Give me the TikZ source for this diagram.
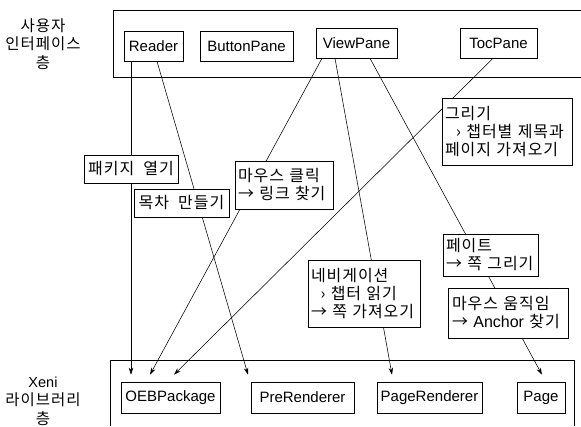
\documentclass[tikz,border=0pt]{standalone}
\usepackage{fontspec}
\setmainfont{Liberation Sans}
\newfontfamily\kr[LetterSpace=6,WordSpace=2]{Noto Sans CJK KR}
\usetikzlibrary{arrows.meta}
\begin{document}
\begin{tikzpicture}[x=1pt,y=-1pt,
  comp/.style={draw,line width=0.6pt,minimum height=30pt,inner sep=0pt,
    font=\fontsize{15}{17}\selectfont},
  note/.style={draw,fill=white,line width=0.6pt,inner xsep=3pt,inner ysep=0pt,
    align=left,font=\kr\fontsize{16}{18}\selectfont},
  layername/.style={align=center,font=\kr\fontsize{15.5}{18.5}\selectfont},
  frame/.style={line width=0.7pt},
  link/.style={line width=0.55pt,-{Stealth[length=7pt,width=4.5pt]}}]
\useasboundingbox (0,0) rectangle (581,426);

% layer frames (open toward the page edges)
\draw[frame] (581,10) -- (113,10) -- (113,77) -- (581,77);
\draw[frame] (110,426) -- (110,360) -- (574,360) -- (574,426);

% layer names
\node[layername] (uiname) at (43,44) {사용자\\인터페이스\\층};
\node[layername] (libname) at (43,401) {{\normalfont\fontsize{14.5}{17}\selectfont Xeni}\\라이브러리\\층};

% user interface components
\node[comp,minimum width=59pt] (reader) at (153.5,46) {Reader};
\node[comp,minimum width=93pt] (button) at (246.5,46) {ButtonPane};
\node[comp,minimum width=81pt] (view) at (356.5,43) {ViewPane};
\node[comp,minimum width=77pt] (toc) at (498.5,43) {TocPane};

% library components
\node[comp,minimum width=99pt,minimum height=31pt] (oeb) at (170.5,397.5) {OEBPackage};
\node[comp,minimum width=103pt,minimum height=31pt] (pre) at (302.5,397.5) {PreRenderer};
\node[comp,minimum width=105pt,minimum height=31pt] (pager) at (429.5,397.5) {PageRenderer};
\node[comp,minimum width=48pt,minimum height=31pt] (page) at (541,397.5) {Page};

% calls from the interface layer into the library
\draw[link] ([xshift=-22.5pt]reader.south) -- ([xshift=-39.5pt,yshift=7pt]oeb.north);
\draw[link] ([xshift=3.5pt]reader.south) -- ([xshift=-54.5pt,yshift=7pt]pre.north);
\draw[link] ([xshift=-34.5pt]view.south) -- ([xshift=-20.5pt,yshift=7pt]oeb.north);
\draw[link] ([xshift=-5.5pt]toc.south) -- ([xshift=3.5pt,yshift=7pt]oeb.north);
\draw[link] ([xshift=-21.5pt]view.south) -- ([xshift=-37.5pt,yshift=7pt]pager.north);
\draw[link] ([xshift=13.5pt]view.south) -- ([xshift=1pt,yshift=7pt]page.north);

% labels on the calls
\node[note,minimum width=94pt,minimum height=28pt,align=center] (openpkg) at (131,169) {패키지 열기};
\node[note,minimum width=95pt,minimum height=28pt,align=center] (maketoc) at (181.5,203) {목차 만들기};
\node[note,text width=92pt,minimum height=48pt] (click) at (284,185) {마우스 클릭\\→ 링크 찾기};
\node[note,text width=124pt,minimum height=67pt] (drawtoc) at (507,131.5)
  {그리기\\\hspace*{0.7em}› 챕터별 제목과\\페이지 가져오기};
\node[note,text width=89pt,minimum height=42pt] (paint) at (490.5,255) {페이트\\→ 쪽 그리기};
\node[note,inner xsep=4pt,text width=112pt,minimum height=50pt] (move) at (508,313)
  {마우스 움직임\\→ {\normalfont Anchor} 찾기};
\node[note,text width=106pt,minimum height=67pt] (nav) at (364,293.5)
  {네비게이션\\\hspace*{0.6em}› 챕터 읽기\\→ 쪽 가져오기};
\end{tikzpicture}
\end{document}
